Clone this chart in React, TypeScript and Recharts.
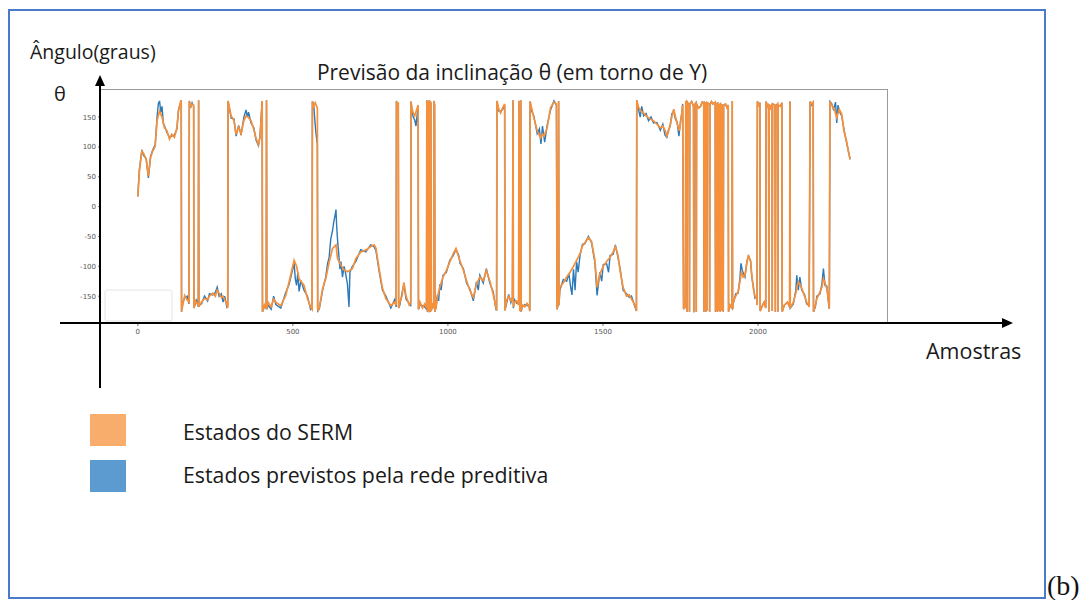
import { LineChart, Line, XAxis, YAxis } from 'recharts'

// eixo das amostras e dos graus
const X_TICKS = [0, 500, 1000, 1500, 2000]
const Y_TICKS = [-150, -100, -50, 0, 50, 100, 150]
const X_DOMAIN = [-122, 2416]
const Y_DOMAIN = [-195, 197]

// trechos com muitas voltas em ±180 (iguais nas duas séries)
const WRAP_940: [number, number][] = [
  [932, 178], [933, 175], [934, -176], [935, -172], [936, 177], [937, 172], [938, -177], [939, -170],
  [940, 178], [941, 174], [942, -176], [943, -172], [944, 176], [945, 172], [946, -175], [950, -165],
  [954, -170], [955, 177], [957, 170], [958, -176], [962, -168],
]

const WRAP_1830: [number, number][] = [
  [1760, -172], [1763, -160], [1766, -170], [1767, 177], [1770, 172], [1771, -176], [1772, 175],
  [1778, 170], [1779, -176], [1780, 172], [1786, 176], [1792, 168], [1793, -177], [1794, 170],
  [1800, 174], [1801, -176], [1802, 172], [1808, 165], [1815, 168], [1820, 175], [1825, 174],
  [1826, -176], [1827, 176], [1829, -175], [1830, 175], [1832, -176], [1833, 174], [1835, -175],
  [1836, 174], [1843, 172], [1844, -176], [1845, 170], [1850, 176], [1855, 172], [1862, 175],
  [1863, -176], [1864, 174], [1866, -175], [1867, 173], [1869, -176], [1870, 175], [1873, -175],
  [1874, 172], [1878, -176], [1879, 174], [1882, -175], [1883, 172], [1888, -176], [1889, 170],
  [1895, 172], [1900, 166], [1904, 170], [1905, -176], [1910, -165], [1916, -170], [1917, 177],
  [1918, -172],
]

const WRAP_2050: [number, number][] = [
  [1998, 176], [2002, 170], [2006, 174], [2007, -175], [2015, -165], [2020, -160], [2025, -170],
  [2026, 176], [2030, 168], [2034, 172], [2035, -176], [2036, 170], [2040, 165], [2045, 172],
  [2046, -175], [2047, 172], [2055, 170], [2056, -176], [2057, 168], [2063, 172], [2064, -176],
  [2065, 170], [2072, 168], [2077, 174], [2078, -176], [2085, -165], [2095, -160], [2102, -168],
  [2103, 176], [2104, -170],
]

// Estados do SERM (laranja)
const SERM: [number, number][] = [
  [0, 17], [5, 59], [13, 93], [18, 90], [27, 79], [34, 51], [41, 82], [48, 93], [56, 101], [62, 144],
  [70, 160], [78, 150], [86, 132], [94, 127], [102, 113], [109, 121], [118, 116], [126, 132], [131, 160],
  [138, 176], [140, 178],
  [141, -176], [145, -165], [151, -149], [159, -156], [165, -160], [166, 177], [170, 168], [175, 172],
  [180, 170], [181, -170], [186, -158], [190, -162], [195, -165], [196, 178], [197, -168], [205, -160],
  [215, -154], [225, -156], [231, -150], [242, -145], [250, -150], [256, -140], [262, -145], [269, -152],
  [275, -150], [280, -156], [287, -163], [290, -170],
  [291, 177], [301, 152], [310, 144], [317, 121], [325, 133], [333, 122], [342, 144], [349, 152],
  [357, 149], [365, 144], [374, 129], [381, 115], [389, 104], [394, 115], [398, 150], [401, 177],
  [402, -176], [408, -165], [414, -172], [415, 178], [416, -170], [420, -160], [430, -168], [438, -155],
  [445, -160], [461, -166], [477, -149], [488, -126], [504, -90], [512, -100], [520, -121], [536, -132],
  [547, -154], [557, -168], [562, -172],
  [563, 176], [567, 168], [572, 174], [579, 165],
  [580, -175], [585, -170], [596, -137], [606, -121], [617, -93], [628, -70], [639, -64], [644, -87],
  [655, -98], [665, -106], [676, -109], [692, -104], [703, -87], [719, -76], [735, -73], [751, -67],
  [762, -64], [768, -70], [778, -104], [789, -137], [800, -154], [816, -166], [828, -160], [833, -165],
  [834, 177], [837, 170], [840, 175],
  [841, -170], [845, -160], [852, -150], [858, -127], [865, -150], [875, -165], [880, -162],
  [881, 176], [884, 165], [888, 157], [893, 152], [898, 160], [904, 170],
  [905, -172], [910, -160], [918, -170], [925, -163], [931, -170],
  ...WRAP_940,
  [966, -152], [974, -135], [984, -118], [995, -107], [1006, -93], [1017, -79], [1026, -70], [1035, -85],
  [1039, -91], [1050, -107], [1060, -124], [1071, -141], [1082, -152], [1092, -130], [1103, -118],
  [1114, -124], [1124, -107], [1135, -124], [1146, -147], [1155, -169], [1157, -174],
  [1158, 177], [1164, 163], [1170, 157], [1176, 165], [1183, 172],
  [1184, -174], [1190, -156], [1196, -150], [1203, -158], [1208, -155], [1210, 178], [1211, -168],
  [1215, -160], [1222, -158], [1228, -165], [1229, 177], [1231, 172], [1232, -175], [1234, -168],
  [1235, 178], [1236, -176], [1240, -165], [1248, -168], [1255, -162], [1262, -168], [1264, -175],
  [1265, 176], [1270, 165], [1277, 149], [1288, 127], [1299, 115], [1305, 122], [1310, 118], [1320, 132],
  [1331, 166], [1342, 175], [1350, 172],
  [1352, -172], [1356, -160], [1357, 177], [1358, -165],
  [1361, -135], [1372, -128], [1383, -118], [1394, -110], [1404, -101], [1415, -90], [1426, -79],
  [1434, -66], [1442, -60], [1453, -52], [1463, -58], [1474, -90], [1481, -135], [1490, -113],
  [1501, -100], [1512, -92], [1523, -85], [1533, -76], [1540, -67], [1548, -80], [1556, -110],
  [1565, -135], [1576, -150], [1585, -148], [1592, -155], [1603, -165], [1608, -175],
  [1609, 178], [1615, 166], [1623, 160], [1631, 157], [1639, 152], [1647, 149], [1655, 146], [1663, 144],
  [1674, 138], [1685, 132], [1693, 135], [1701, 127], [1706, 118], [1711, 125], [1717, 138], [1722, 150],
  [1728, 163], [1734, 150], [1739, 140], [1746, 127], [1750, 140], [1755, 160], [1757, 170],
  ...WRAP_1830,
  [1920, -160], [1928, -150], [1936, -142], [1942, -125], [1947, -108], [1952, -118], [1958, -115],
  [1964, -95], [1969, -81], [1976, -92], [1980, -115], [1985, -137], [1990, -150], [1996, -154],
  [1997, -165],
  ...WRAP_2050,
  [2114, -160], [2122, -145], [2130, -126], [2135, -130], [2141, -137], [2150, -150], [2157, -160],
  [2165, -168], [2168, 176], [2172, 172], [2178, 175], [2179, -176], [2185, -165], [2190, -154],
  [2200, -143], [2206, -135], [2211, -121], [2216, -128], [2222, -137], [2228, -160], [2230, -171],
  [2232, 176], [2238, 170], [2243, 166], [2248, 160], [2254, 149], [2262, 163], [2270, 155], [2277, 127],
  [2286, 109], [2291, 93], [2297, 79],
]

// Estados previstos pela rede preditiva (azul)
const PRED: [number, number][] = [
  [0, 17], [5, 62], [13, 95], [18, 86], [27, 80], [34, 48], [41, 84], [48, 95], [56, 104], [62, 150],
  [66, 172], [70, 177], [74, 158], [78, 168], [82, 140], [86, 135], [94, 124], [102, 116], [109, 118],
  [118, 120], [126, 130], [131, 162], [138, 174], [140, 178],
  [141, -176], [145, -160], [151, -153], [159, -150], [165, -163], [166, 177], [170, 165], [175, 174],
  [180, 168], [181, -170], [186, -162], [190, -157], [195, -168], [196, 178], [197, -165], [205, -163],
  [215, -150], [225, -158], [231, -146], [242, -148], [250, -144], [256, -135], [262, -150], [269, -146],
  [275, -160], [280, -150], [287, -168], [290, -165],
  [291, 177], [301, 148], [310, 147], [317, 118], [325, 136], [333, 120], [342, 150], [349, 162],
  [353, 150], [357, 158], [365, 140], [374, 132], [381, 112], [389, 102], [394, 118], [398, 152], [401, 177],
  [402, -176], [408, -168], [414, -170], [415, 178], [416, -172], [420, -165], [430, -172], [438, -150],
  [445, -164], [461, -170], [477, -144], [488, -130], [504, -95], [508, -122], [512, -132], [516, -110],
  [520, -142], [526, -124], [536, -140], [547, -150], [557, -172], [562, -168],
  [563, 176], [567, 172], [570, 150], [574, 125], [579, 104],
  [580, -175], [585, -172], [596, -140], [606, -118], [612, -95], [617, -85], [622, -55], [628, -40],
  [632, -25], [636, -15], [639, -5], [641, -30], [644, -55], [648, -80], [652, -105], [655, -92],
  [660, -118], [665, -100], [670, -112], [676, -130], [681, -168], [684, -110], [692, -100], [703, -92],
  [719, -72], [735, -76], [751, -64], [762, -67], [768, -74], [778, -108], [789, -140], [800, -150],
  [816, -170], [828, -156], [833, -168],
  [834, 177], [837, 168], [840, 172],
  [841, -170], [845, -165], [852, -145], [858, -130], [865, -155], [875, -162], [880, -167],
  [881, 176], [884, 162], [888, 150], [893, 145], [897, 135], [900, 150], [904, 168],
  [905, -172], [910, -165], [918, -166], [925, -168], [931, -172],
  ...WRAP_940,
  [966, -148], [970, -158], [974, -130], [978, -140], [984, -115], [995, -110], [1006, -90], [1017, -82],
  [1026, -72], [1035, -82], [1039, -95], [1050, -104], [1060, -128], [1071, -138], [1082, -158],
  [1092, -126], [1098, -140], [1103, -115], [1114, -128], [1124, -104], [1135, -128], [1146, -143],
  [1155, -172], [1157, -174],
  [1158, 177], [1164, 160], [1170, 160], [1176, 162], [1183, 170],
  [1184, -174], [1190, -160], [1196, -147], [1203, -161], [1208, -152], [1210, 178], [1211, -170],
  [1215, -156], [1222, -162], [1228, -162], [1229, 177], [1231, 170], [1232, -175], [1234, -170],
  [1235, 178], [1236, -176], [1240, -168], [1248, -164], [1255, -166], [1262, -165], [1264, -175],
  [1265, 176], [1270, 160], [1277, 152], [1288, 122], [1295, 130], [1300, 105], [1305, 135], [1312, 108],
  [1320, 136], [1331, 162], [1342, 177], [1350, 170],
  [1352, -172], [1356, -163], [1357, 177], [1358, -165],
  [1361, -140], [1372, -122], [1383, -125], [1390, -112], [1395, -132], [1400, -148], [1405, -105],
  [1410, -140], [1415, -92], [1420, -110], [1426, -82], [1434, -63], [1442, -62], [1453, -50], [1463, -60],
  [1474, -94], [1481, -149], [1490, -110], [1496, -125], [1501, -97], [1512, -96], [1518, -110],
  [1523, -82], [1533, -80], [1540, -64], [1548, -84], [1556, -106], [1565, -140], [1576, -146],
  [1585, -152], [1592, -150], [1603, -168], [1608, -175],
  [1609, 178], [1615, 162], [1620, 150], [1625, 168], [1631, 152], [1639, 156], [1647, 144], [1655, 150],
  [1663, 140], [1674, 141], [1685, 128], [1693, 138], [1700, 120], [1706, 116], [1711, 128], [1717, 135],
  [1722, 155], [1728, 160], [1734, 146], [1739, 142], [1745, 118], [1750, 143], [1755, 158], [1757, 172],
  ...WRAP_1830,
  [1920, -163], [1928, -146], [1936, -145], [1942, -118], [1945, -95], [1950, -108], [1958, -118],
  [1964, -92], [1969, -83], [1976, -90], [1980, -118], [1985, -134], [1990, -153], [1996, -150],
  [1997, -165],
  ...WRAP_2050,
  [2114, -163], [2122, -140], [2125, -115], [2130, -140], [2135, -118], [2141, -140], [2150, -147],
  [2157, -163], [2165, -165], [2168, 176], [2172, 170], [2178, 175], [2179, -176], [2185, -168],
  [2190, -150], [2200, -146], [2206, -130], [2211, -104], [2216, -132], [2222, -133], [2228, -165],
  [2230, -171],
  [2232, 176], [2238, 172], [2243, 163], [2248, 170], [2250, 175], [2254, 140], [2258, 170], [2262, 160],
  [2270, 152], [2277, 130], [2286, 106], [2291, 95], [2297, 79],
]

const sermData = SERM.map(([amostra, graus]) => ({ amostra, graus }))
const predData = PRED.map(([amostra, graus]) => ({ amostra, graus }))

const ORANGE = '#f7903a'
const BLUE = '#2b79b8'
const FONT = '"Open Sans", "Noto Sans", sans-serif'

function Annotations() {
  return (
    <svg
      width={1091}
      height={600}
      style={{ position: 'absolute', left: 0, top: 0, pointerEvents: 'none' }}
    >
      {/* moldura azul */}
      <rect x={9} y={10} width={1036} height={588} fill="none" stroke="#4a7acb" strokeWidth={2} />
      <text x={1047} y={595} fontFamily='"Liberation Serif", "DejaVu Serif", serif' fontSize={28} fill="#111">
        (b)
      </text>

      {/* caixa cinza da área do gráfico */}
      <rect x={100.5} y={89.5} width={787} height={234} fill="none" stroke="#9a9a9a" strokeWidth={1} />

      {/* resto da caixa de legenda original */}
      <rect x={105} y={290} width={67} height={31} rx={2} fill="none" stroke="#e4e4e4" strokeWidth={1} />

      {/* eixos desenhados à mão */}
      <line x1={60} y1={323} x2={1004} y2={323} stroke="#000" strokeWidth={2} />
      <polygon points="1013,323 1002,318 1002,328" fill="#000" />
      <line x1={100} y1={388} x2={100} y2={84} stroke="#000" strokeWidth={2} />
      <polygon points="100,75 95,86 105,86" fill="#000" />

      <g fontFamily={FONT} fill="#1a1a1a">
        <text x={30} y={59} fontSize={19.5}>Ângulo(graus)</text>
        <text x={54} y={101} fontSize={20}>θ</text>
        <text x={512} y={80} fontSize={21} textAnchor="middle">
          Previsão da inclinação θ (em torno de Y)
        </text>
        <text x={926} y={359} fontSize={21.5}>Amostras</text>
        <text x={183} y={440} fontSize={21.3}>Estados do SERM</text>
        <text x={183} y={483} fontSize={21.3}>Estados previstos pela rede preditiva</text>
      </g>

      <rect x={90} y={414} width={36} height={32} fill="#f9ad6d" />
      <rect x={90} y={460} width={36} height={32} fill="#5b9bcf" />
    </svg>
  )
}

export default function App() {
  const tick = { fontSize: 7, fill: '#555', fontFamily: '"DejaVu Sans", sans-serif' }
  return (
    <div style={{ position: 'absolute', left: 0, top: 0, width: 1091, height: 600, background: '#fff' }}>
      <div style={{ position: 'absolute', left: 0, top: 0 }}>
        <LineChart width={1091} height={600} margin={{ top: 89, right: 204, bottom: 257, left: 76 }}>
          <XAxis
            dataKey="amostra"
            type="number"
            domain={X_DOMAIN}
            ticks={X_TICKS}
            allowDataOverflow
            height={20}
            tick={tick}
            tickSize={3}
            tickMargin={3}
            axisLine={{ stroke: '#999' }}
            tickLine={{ stroke: '#777' }}
          />
          <YAxis
            type="number"
            domain={Y_DOMAIN}
            ticks={Y_TICKS}
            allowDataOverflow
            width={24}
            tick={tick}
            tickSize={2}
            tickMargin={2}
            axisLine={{ stroke: '#999' }}
            tickLine={{ stroke: '#777' }}
          />
          <Line
            data={predData}
            dataKey="graus"
            type="linear"
            stroke={BLUE}
            strokeWidth={1.4}
            dot={false}
            isAnimationActive={false}
          />
          <Line
            data={sermData}
            dataKey="graus"
            type="linear"
            stroke={ORANGE}
            strokeWidth={1.7}
            dot={false}
            isAnimationActive={false}
          />
        </LineChart>
      </div>
      <Annotations />
    </div>
  )
}
